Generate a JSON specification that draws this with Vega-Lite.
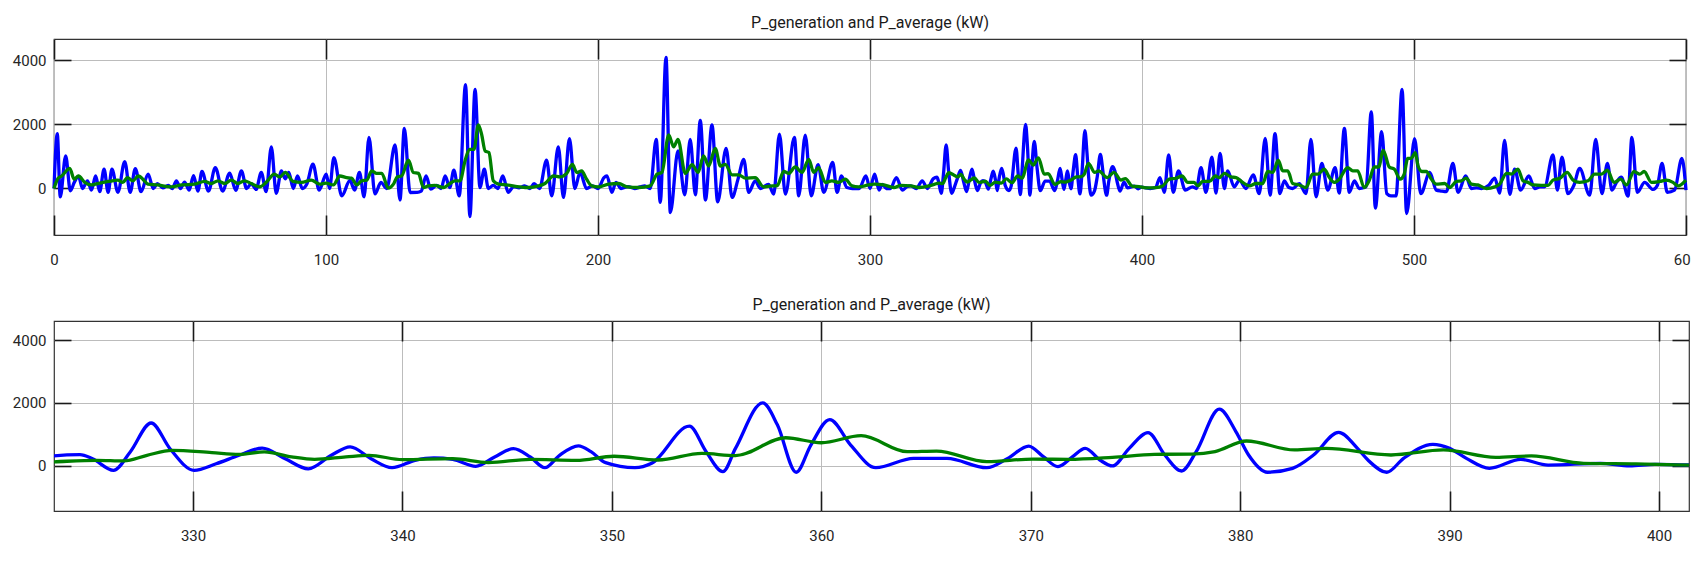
{
  "$schema": "https://vega.github.io/schema/vega-lite/v6.json",
  "background": "white",
  "padding": {"left": 0, "top": 14, "right": 0, "bottom": 0},
  "spacing": 28,
  "config": {
    "font": "Roboto",
    "view": {"stroke": "#333333", "strokeWidth": 1.2},
    "title": {"fontSize": 16, "fontWeight": "normal", "color": "#1a1a1a", "offset": 7, "font": "Roboto"},
    "axis": {"labelFont": "Roboto", "labelFontSize": 15, "labelColor": "#262626", "domain": false, "tickColor": "#1a1a1a", "tickWidth": 1.6, "gridColor": "#bcbcbc", "gridWidth": 1, "gridOpacity": 1, "format": "d", "labelFlush": false}
  },
  "datasets": {
    "gen": [
      {"t":0,"v":0},{"t":1.2,"v":1710},{"t":2.3,"v":-260},{"t":4.3,"v":1015},{"t":6,"v":-70},{"t":7.5,"v":200},{"t":9,"v":380},{"t":10.5,"v":0},{"t":12.3,"v":240},{"t":13.8,"v":-50},{"t":15.3,"v":390},{"t":16.8,"v":-100},{"t":18.4,"v":600},{"t":19.9,"v":-120},{"t":21.3,"v":600},{"t":23.5,"v":-120},{"t":26,"v":840},{"t":28,"v":-120},{"t":29.9,"v":620},{"t":32,"v":-100},{"t":34.6,"v":450},{"t":36.5,"v":0},{"t":38,"v":150},{"t":40,"v":20},{"t":42,"v":100},{"t":43.5,"v":0},{"t":45,"v":240},{"t":46.5,"v":0},{"t":48,"v":200},{"t":49.7,"v":-50},{"t":51.3,"v":400},{"t":52.9,"v":-80},{"t":54.4,"v":530},{"t":56.8,"v":-80},{"t":59.3,"v":650},{"t":62,"v":-80},{"t":64.6,"v":480},{"t":66.8,"v":-60},{"t":68.9,"v":550},{"t":70.8,"v":0},{"t":72.5,"v":150},{"t":74.3,"v":-30},{"t":76.2,"v":500},{"t":78,"v":-100},{"t":79.9,"v":1300},{"t":81.7,"v":-150},{"t":83.6,"v":550},{"t":85,"v":300},{"t":86.3,"v":500},{"t":88,"v":0},{"t":89.5,"v":390},{"t":91.3,"v":0},{"t":93,"v":150},{"t":95.2,"v":760},{"t":97.5,"v":-50},{"t":100.1,"v":450},
      {"t":101.3,"v":0},{"t":102.9,"v":960},{"t":105.8,"v":-230},{"t":108.8,"v":250},{"t":110.5,"v":-50},{"t":112.3,"v":500},{"t":114,"v":-260},{"t":115.8,"v":1590},{"t":118,"v":-170},{"t":120.2,"v":190},{"t":122.3,"v":0},{"t":125.4,"v":1360},{"t":127.2,"v":-360},{"t":128.8,"v":1875},{"t":130.9,"v":-125},{"t":133.5,"v":-120},{"t":135,"v":-80},{"t":136.8,"v":390},{"t":138.5,"v":-20},{"t":140.7,"v":100},{"t":142.3,"v":0},{"t":143.8,"v":390},{"t":145.5,"v":30},{"t":147,"v":570},{"t":149,"v":-230},{"t":151.3,"v":3240},{"t":152.9,"v":-880},{"t":154.8,"v":3090},{"t":156.6,"v":30},{"t":158.2,"v":600},{"t":159.7,"v":0},{"t":161.5,"v":100},{"t":163.2,"v":0},{"t":165,"v":390},{"t":167,"v":-120},{"t":169,"v":60},{"t":171,"v":20},{"t":173,"v":80},{"t":175,"v":0},{"t":176.5,"v":150},{"t":178.5,"v":0},{"t":181.1,"v":880},{"t":183,"v":-230},{"t":185.4,"v":1300},{"t":187.3,"v":-280},{"t":189.5,"v":1550},{"t":191.5,"v":0},{"t":193.4,"v":500},{"t":195.8,"v":0},{"t":198,"v":80},{"t":200,"v":0},
      {"t":202.2,"v":340},{"t":203.3,"v":390},{"t":205.1,"v":-120},{"t":206.6,"v":190},{"t":208.5,"v":0},{"t":211,"v":60},{"t":213.5,"v":0},{"t":215.5,"v":50},{"t":217.2,"v":80},{"t":219.2,"v":0},{"t":221.4,"v":1530},{"t":222.9,"v":-430},{"t":225,"v":4090},{"t":226.6,"v":-750},{"t":229.4,"v":1170},{"t":231.9,"v":-200},{"t":233.9,"v":1530},{"t":235.8,"v":-200},{"t":237.6,"v":2120},{"t":239.5,"v":-360},{"t":241.9,"v":1980},{"t":244,"v":-415},{"t":247.1,"v":1250},{"t":249.3,"v":-280},{"t":251.5,"v":300},{"t":253.6,"v":910},{"t":255.4,"v":-120},{"t":257.8,"v":240},{"t":259.7,"v":0},{"t":262.7,"v":130},{"t":264.6,"v":-175},{"t":266.7,"v":1690},{"t":268.9,"v":-175},{"t":272.2,"v":1590},{"t":273.8,"v":-230},{"t":276.2,"v":1660},{"t":278.4,"v":-230},{"t":280.9,"v":740},{"t":283,"v":-120},{"t":286.3,"v":810},{"t":287.9,"v":-120},{"t":289.5,"v":390},{"t":291.5,"v":30},{"t":293.5,"v":0},{"t":296,"v":0},{"t":298.5,"v":390},{"t":300,"v":0},
      {"t":301.7,"v":450},{"t":303.3,"v":-50},{"t":304.5,"v":130},{"t":306,"v":0},{"t":307.5,"v":0},{"t":309.7,"v":340},{"t":311.9,"v":-50},{"t":313.5,"v":50},{"t":315,"v":80},{"t":317,"v":0},{"t":319.2,"v":240},{"t":321.1,"v":0},{"t":323.3,"v":310},
      {"t":324.6,"v":350},{"t":325.2,"v":220},{"t":326.2,"v":-150},{"t":327,"v":436},{"t":328,"v":1360},{"t":328.9,"v":540},{"t":330.05,"v":-150},{"t":331.1,"v":60},{"t":332.2,"v":330},{"t":333.3,"v":560},{"t":334.4,"v":220},{"t":335.5,"v":-100},{"t":336.6,"v":330},{"t":337.5,"v":600},{"t":338.5,"v":220},{"t":339.5,"v":-65},{"t":340.6,"v":170},{"t":341.5,"v":245},{"t":342.4,"v":200},{"t":343.5,"v":-20},{"t":344.4,"v":277},{"t":345.3,"v":540},{"t":346.1,"v":277},{"t":346.8,"v":-65},{"t":347.5,"v":330},{"t":348.4,"v":630},{"t":349,"v":445},{"t":349.7,"v":95},{"t":351.1,"v":-65},{"t":351.9,"v":75},{"t":353.7,"v":1260},{"t":354.5,"v":445},{"t":355.3,"v":-190},{"t":355.9,"v":550},{"t":357.2,"v":2000},{"t":357.9,"v":1300},{"t":358.8,"v":-210},{"t":359.5,"v":657},{"t":360.4,"v":1470},{"t":361.4,"v":657},{"t":362.6,"v":-65},{"t":364.4,"v":230},{"t":366,"v":230},{"t":367.9,"v":-65},{"t":368.9,"v":233},{"t":369.9,"v":625},{"t":370.6,"v":286},{"t":371.3,"v":-30},{"t":372,"v":286},{"t":372.6,"v":550},{"t":373.3,"v":180},{"t":373.9,"v":-10},{"t":374.7,"v":550},{"t":375.6,"v":1055},{"t":376.4,"v":340},{"t":377.2,"v":-170},{"t":377.9,"v":445},{"t":379,"v":1800},{"t":379.8,"v":1080},{"t":380.4,"v":340},{"t":381.3,"v":-210},{"t":382.5,"v":-85},{"t":383.5,"v":340},{"t":384.7,"v":1060},{"t":385.6,"v":551},{"t":386.1,"v":180},{"t":387,"v":-210},{"t":387.8,"v":233},{"t":389.2,"v":680},{"t":390,"v":551},{"t":390.8,"v":233},{"t":391.9,"v":-85},{"t":393.4,"v":200},{"t":394.7,"v":20},{"t":397.2,"v":75},{"t":398.6,"v":-10},{"t":399.8,"v":40},{"t":401.5,"v":20},
      {"t":403,"v":0},{"t":405,"v":30},{"t":406.6,"v":340},{"t":408.2,"v":-120},{"t":409.8,"v":1045},{"t":411.5,"v":-120},{"t":413.4,"v":550},{"t":415.9,"v":-50},{"t":418.6,"v":50},{"t":420,"v":0},{"t":421.7,"v":650},{"t":423.5,"v":-120},{"t":425.7,"v":980},{"t":427.2,"v":-140},{"t":428.7,"v":1090},{"t":430.3,"v":0},{"t":431.5,"v":550},{"t":433.9,"v":50},{"t":435.8,"v":260},{"t":438.2,"v":0},{"t":440.9,"v":425},{"t":443.1,"v":-160},{"t":445.3,"v":1560},{"t":447.1,"v":-210},{"t":448.9,"v":1710},{"t":450.7,"v":-160},{"t":452.3,"v":240},{"t":454,"v":30},{"t":455.4,"v":0},{"t":457.8,"v":150},{"t":460.3,"v":-160},{"t":462.1,"v":1530},{"t":464,"v":-260},{"t":466.1,"v":780},{"t":468.3,"v":-50},{"t":471,"v":650},{"t":472.5,"v":-140},{"t":474.4,"v":1875},{"t":476.2,"v":-120},{"t":478.1,"v":240},{"t":479.9,"v":0},{"t":482.4,"v":50},{"t":484.3,"v":2390},{"t":485.8,"v":-610},{"t":488.1,"v":1770},{"t":490,"v":-160},{"t":491.5,"v":-230},{"t":493.4,"v":-230},{"t":495.6,"v":3090},{"t":497.3,"v":-780},{"t":500.2,"v":1550},
      {"t":502.5,"v":-160},{"t":505.8,"v":500},{"t":508.2,"v":-50},{"t":510,"v":-80},{"t":511.9,"v":-100},{"t":514.3,"v":780},{"t":516.2,"v":-120},{"t":519,"v":390},{"t":521.1,"v":0},{"t":523,"v":20},{"t":524.8,"v":0},{"t":527.5,"v":100},{"t":529.7,"v":320},{"t":531.5,"v":-140},{"t":533.3,"v":1500},{"t":535.2,"v":-180},{"t":537,"v":600},{"t":539.2,"v":-50},{"t":542.2,"v":390},{"t":544.4,"v":0},{"t":546.3,"v":50},{"t":548,"v":50},{"t":551.1,"v":1045},{"t":552.7,"v":-50},{"t":554.4,"v":980},{"t":556.6,"v":-160},{"t":558.8,"v":100},{"t":560.9,"v":630},{"t":564.6,"v":-210},{"t":566.8,"v":1530},{"t":569.1,"v":-160},{"t":571.1,"v":780},{"t":572.8,"v":-50},{"t":574.5,"v":200},{"t":576.2,"v":350},{"t":578.7,"v":-240},{"t":580.1,"v":1590},{"t":582.1,"v":-120},{"t":584.8,"v":190},{"t":587.9,"v":-30},{"t":589.5,"v":100},{"t":591.2,"v":780},{"t":593.1,"v":-120},{"t":595.8,"v":-50},{"t":598.5,"v":940},{"t":600,"v":-50}
    ],
    "avg": [
      {"t":0,"v":0},{"t":1.5,"v":320},{"t":2.8,"v":390},{"t":5.8,"v":630},{"t":7.4,"v":290},{"t":9,"v":390},{"t":11.3,"v":190},{"t":13.7,"v":110},{"t":16,"v":155},{"t":20,"v":220},{"t":23.5,"v":260},{"t":25.3,"v":190},{"t":27,"v":340},{"t":29,"v":240},{"t":31,"v":390},{"t":33,"v":260},{"t":34.5,"v":135},{"t":38,"v":110},{"t":43,"v":50},{"t":47,"v":110},{"t":51.7,"v":135},{"t":55.4,"v":220},{"t":57.8,"v":155},{"t":60.3,"v":240},{"t":62.7,"v":155},{"t":65.2,"v":260},{"t":67.6,"v":155},{"t":70,"v":240},{"t":72.5,"v":155},{"t":75.6,"v":50},{"t":78,"v":190},{"t":81,"v":445},{"t":83,"v":360},{"t":85,"v":500},{"t":87.9,"v":220},{"t":91,"v":190},{"t":94.6,"v":260},{"t":97.7,"v":135},{"t":100,"v":170},
      {"t":102.7,"v":110},{"t":105.1,"v":390},{"t":107.6,"v":340},{"t":109.4,"v":320},{"t":111.3,"v":110},{"t":113.1,"v":240},{"t":115,"v":260},{"t":116.8,"v":550},{"t":118.6,"v":470},{"t":120.5,"v":470},{"t":122.9,"v":10},{"t":124.8,"v":135},{"t":126.2,"v":360},{"t":127.8,"v":390},{"t":130.3,"v":880},{"t":132.1,"v":500},{"t":134,"v":470},{"t":135.8,"v":30},{"t":137.6,"v":80},{"t":140,"v":100},{"t":143.1,"v":30},{"t":145.6,"v":155},{"t":147.4,"v":240},{"t":149.3,"v":240},{"t":151.1,"v":860},{"t":152.9,"v":1220},{"t":154.4,"v":1220},{"t":156,"v":1980},{"t":157.2,"v":1690},{"t":158.5,"v":1170},{"t":159.9,"v":1120},{"t":161.5,"v":240},{"t":163.4,"v":135},{"t":166.4,"v":110},{"t":171.3,"v":50},{"t":174.4,"v":30},{"t":178.1,"v":80},{"t":180.5,"v":155},{"t":183.6,"v":390},{"t":186,"v":360},{"t":188.5,"v":470},{"t":190.6,"v":750},{"t":192.2,"v":500},{"t":194,"v":550},{"t":195.8,"v":290},{"t":197.7,"v":80},{"t":200.1,"v":50},
      {"t":203.9,"v":135},{"t":207.6,"v":155},{"t":210.7,"v":50},{"t":215,"v":30},{"t":219.2,"v":80},{"t":221.7,"v":445},{"t":223.5,"v":500},{"t":226,"v":1670},{"t":227.8,"v":1300},{"t":229.4,"v":1530},{"t":232.1,"v":470},{"t":234.6,"v":740},{"t":236.8,"v":500},{"t":238.8,"v":1015},{"t":240.7,"v":700},{"t":243.1,"v":1250},{"t":245,"v":700},{"t":246.8,"v":750},{"t":249.3,"v":425},{"t":251.7,"v":425},{"t":254.2,"v":320},{"t":257.8,"v":340},{"t":260.9,"v":50},{"t":264,"v":80},{"t":265.8,"v":80},{"t":268.3,"v":530},{"t":270.1,"v":470},{"t":272.5,"v":670},{"t":275,"v":500},{"t":277.5,"v":910},{"t":279.3,"v":500},{"t":281.1,"v":650},{"t":283.6,"v":190},{"t":286,"v":240},{"t":288.5,"v":190},{"t":290.9,"v":290},{"t":293.4,"v":80},{"t":295.8,"v":50},{"t":299.5,"v":110},
      {"t":301.5,"v":135},{"t":305.1,"v":110},{"t":308.8,"v":30},{"t":311.3,"v":100},{"t":315,"v":80},{"t":318,"v":30},{"t":321.7,"v":80},{"t":323.3,"v":120},{"t":325.4,"v":170},{"t":326.7,"v":150},{"t":327.8,"v":330},{"t":329,"v":490},{"t":330.9,"v":415},{"t":332.2,"v":360},{"t":333.4,"v":440},{"t":334.7,"v":280},{"t":335.8,"v":200},{"t":337.3,"v":280},{"t":338.4,"v":330},{"t":340,"v":190},{"t":342.4,"v":225},{"t":344.1,"v":100},{"t":346.1,"v":200},{"t":348.3,"v":170},{"t":350.1,"v":300},{"t":352.2,"v":180},{"t":354.3,"v":390},{"t":355.9,"v":320},{"t":358.3,"v":890},{"t":360,"v":730},{"t":361.9,"v":955},{"t":364.1,"v":445},{"t":365.5,"v":465},{"t":367.9,"v":130},{"t":370.1,"v":210},{"t":371.8,"v":200},{"t":373.9,"v":265},{"t":375.9,"v":360},{"t":377.7,"v":370},{"t":378.8,"v":450},{"t":380.3,"v":785},{"t":382.6,"v":500},{"t":384.1,"v":550},{"t":387.2,"v":340},{"t":389.7,"v":500},{"t":392.2,"v":265},{"t":393.9,"v":310},{"t":396.4,"v":75},{"t":398.9,"v":55},{"t":401.5,"v":20},
      {"t":405.1,"v":30},{"t":407.6,"v":80},{"t":410,"v":290},{"t":412.5,"v":320},{"t":414.7,"v":390},{"t":416.8,"v":190},{"t":419.2,"v":190},{"t":420.5,"v":80},{"t":422.3,"v":220},{"t":424.8,"v":220},{"t":427,"v":390},{"t":428.4,"v":340},{"t":430.3,"v":470},{"t":432.7,"v":360},{"t":434.6,"v":340},{"t":437,"v":190},{"t":439.5,"v":80},{"t":441.9,"v":155},{"t":444.4,"v":155},{"t":446.2,"v":530},{"t":448.1,"v":500},{"t":450.1,"v":880},{"t":451.7,"v":550},{"t":453.6,"v":550},{"t":455.4,"v":155},{"t":457.8,"v":110},{"t":460.3,"v":30},{"t":462.7,"v":445},{"t":464.6,"v":445},{"t":467,"v":600},{"t":468.9,"v":340},{"t":470.7,"v":190},{"t":472.5,"v":290},{"t":475.6,"v":650},{"t":477.5,"v":550},{"t":479.3,"v":550},{"t":481.7,"v":30},{"t":483.6,"v":260},{"t":485.4,"v":670},{"t":487,"v":670},{"t":488.7,"v":1190},{"t":490.9,"v":670},{"t":492.8,"v":600},{"t":494.9,"v":290},{"t":496.4,"v":450},{"t":497.7,"v":940},{"t":498.9,"v":940},{"t":500.5,"v":1120},
      {"t":501.5,"v":700},{"t":502.9,"v":530},{"t":504.5,"v":530},{"t":506.4,"v":290},{"t":508.2,"v":135},{"t":511.3,"v":155},{"t":513.1,"v":30},{"t":515.6,"v":220},{"t":517.4,"v":240},{"t":519.2,"v":320},{"t":521.1,"v":135},{"t":523.5,"v":110},{"t":526.6,"v":0},{"t":529.7,"v":50},{"t":531.5,"v":135},{"t":534,"v":470},{"t":535.8,"v":450},{"t":538.2,"v":600},{"t":540.1,"v":240},{"t":541.9,"v":190},{"t":543.8,"v":110},{"t":546.8,"v":100},{"t":549.3,"v":100},{"t":551.1,"v":260},{"t":553.6,"v":320},{"t":556.3,"v":500},{"t":558.5,"v":260},{"t":560.9,"v":190},{"t":564,"v":240},{"t":566.4,"v":445},{"t":568.9,"v":445},{"t":571.1,"v":570},{"t":573.5,"v":190},{"t":576,"v":290},{"t":578.1,"v":110},{"t":580.9,"v":530},{"t":583,"v":445},{"t":584.6,"v":530},{"t":587.3,"v":190},{"t":590.4,"v":220},{"t":592.8,"v":260},{"t":595.2,"v":190},{"t":597.1,"v":80},{"t":600,"v":260}
    ]
  },
  "vconcat": [
    {
      "title": "P_generation and P_average (kW)",
      "width": 1632,
      "height": 196,
      "layer": [
        {
          "data": {"name": "gen"},
          "mark": {"type": "line", "color": "#0000ff", "strokeWidth": 3.3, "interpolate": "monotone"},
          "encoding": {
            "x": {"field": "t", "type": "quantitative", "scale": {"domain": [0, 600], "nice": false, "zero": false},
                  "axis": {"orient": "bottom", "title": null, "values": [0, 100, 200, 300, 400, 500, 600], "grid": true, "tickSize": -20, "labelPadding": 37}},
            "y": {"field": "v", "type": "quantitative", "scale": {"domain": [-1450, 4660], "nice": false, "zero": false},
                  "axis": {"orient": "left", "title": null, "values": [0, 2000, 4000], "grid": true, "tickSize": -17, "labelPadding": 25, "minExtent": 53, "maxExtent": 53}}
          }
        },
        {
          "data": {"name": "avg"},
          "mark": {"type": "line", "color": "#008000", "strokeWidth": 3.3, "interpolate": "monotone"},
          "encoding": {
            "x": {"field": "t", "type": "quantitative", "scale": {"domain": [0, 600], "nice": false, "zero": false},
                  "axis": {"orient": "top", "title": null, "labels": false, "values": [0, 100, 200, 300, 400, 500, 600], "grid": false, "tickSize": -20}},
            "y": {"field": "v", "type": "quantitative", "scale": {"domain": [-1450, 4660], "nice": false, "zero": false},
                  "axis": {"orient": "right", "title": null, "labels": false, "values": [0, 2000, 4000], "grid": false, "tickSize": -17}}
          }
        }
      ],
      "resolve": {"axis": {"x": "independent", "y": "independent"}}
    },
    {
      "title": "P_generation and P_average (kW)",
      "width": 1635,
      "height": 190,
      "layer": [
        {
          "data": {"name": "gen"},
          "mark": {"type": "line", "color": "#0000ff", "strokeWidth": 3.3, "interpolate": "monotone", "clip": true},
          "encoding": {
            "x": {"field": "t", "type": "quantitative", "scale": {"domain": [323.36, 401.43], "nice": false, "zero": false},
                  "axis": {"orient": "bottom", "title": null, "values": [330, 340, 350, 360, 370, 380, 390, 400], "grid": true, "tickSize": -20, "labelPadding": 37}},
            "y": {"field": "v", "type": "quantitative", "scale": {"domain": [-1445, 4610], "nice": false, "zero": false},
                  "axis": {"orient": "left", "title": null, "values": [0, 2000, 4000], "grid": true, "tickSize": -17, "labelPadding": 25, "minExtent": 53, "maxExtent": 53}}
          }
        },
        {
          "data": {"name": "avg"},
          "mark": {"type": "line", "color": "#008000", "strokeWidth": 3.3, "interpolate": "monotone", "clip": true},
          "encoding": {
            "x": {"field": "t", "type": "quantitative", "scale": {"domain": [323.36, 401.43], "nice": false, "zero": false},
                  "axis": {"orient": "top", "title": null, "labels": false, "values": [330, 340, 350, 360, 370, 380, 390, 400], "grid": false, "tickSize": -20}},
            "y": {"field": "v", "type": "quantitative", "scale": {"domain": [-1445, 4610], "nice": false, "zero": false},
                  "axis": {"orient": "right", "title": null, "labels": false, "values": [0, 2000, 4000], "grid": false, "tickSize": -17}}
          }
        }
      ],
      "resolve": {"axis": {"x": "independent", "y": "independent"}}
    }
  ]
}
